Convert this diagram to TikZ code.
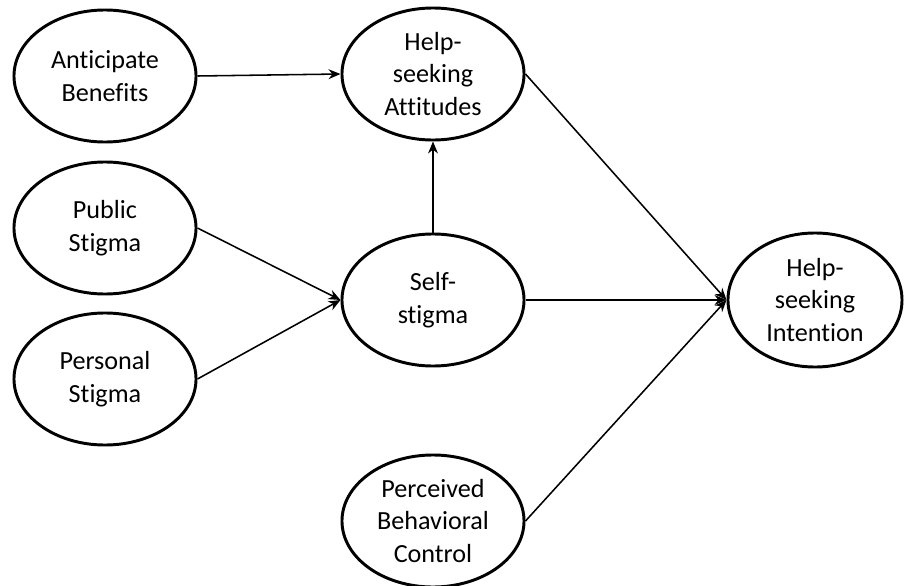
\documentclass[tikz,border=0pt]{standalone}
\usepackage{fontspec}
\setmainfont{Carlito}[Ligatures=NoCommon]
\usepackage{tikz}
\usetikzlibrary{arrows.meta, shapes.geometric}
\colorlet{rimcolor}{black}

\begin{document}
\begin{tikzpicture}[x=0.025cm, y=-0.025cm, >={Stealth[length=8.5pt, width=7pt]},
    construct/.style={ellipse, draw=rimcolor, line width=2.1pt, inner sep=0pt,
      minimum width=4.55cm, minimum height=3.3cm, align=center,
      font=\fontsize{18.6}{23}\selectfont},
    path/.style={->, line width=1.1pt}]
    \useasboundingbox (0,0) rectangle (904,586);

    \node[construct] (benefits) at (105, 76) {Anticipate\\Benefits};
    \node[construct] (public) at (105, 228) {Public\\Stigma};
    \node[construct] (personal) at (105, 379) {Personal\\Stigma};

    \node[construct] (attitudes) at (433, 74) {Help-\\seeking\\Attitudes};
    \node[construct] (selfstigma) at (433, 300) {Self-\\stigma};
    \node[construct] (control) at (433, 521) {Perceived\\Behavioral\\Control};

    \node[construct, minimum width=4.35cm, minimum height=3.35cm] (intention) at (815, 300) {Help-\\seeking\\Intention};

    \draw[path] (benefits.east) -- (attitudes.west);
    \draw[path, line width=0.8pt] (selfstigma.north) -- (attitudes.south);
    \draw[path] (public.east) -- (selfstigma.west);
    \draw[path] (personal.east) -- (selfstigma.west);
    \draw[path] (attitudes.east) -- (intention.west);
    \draw[path, line width=1.6pt] (selfstigma.east) -- (intention.west);
    \draw[path] (control.east) -- (intention.west);
  \end{tikzpicture}
\end{document}
